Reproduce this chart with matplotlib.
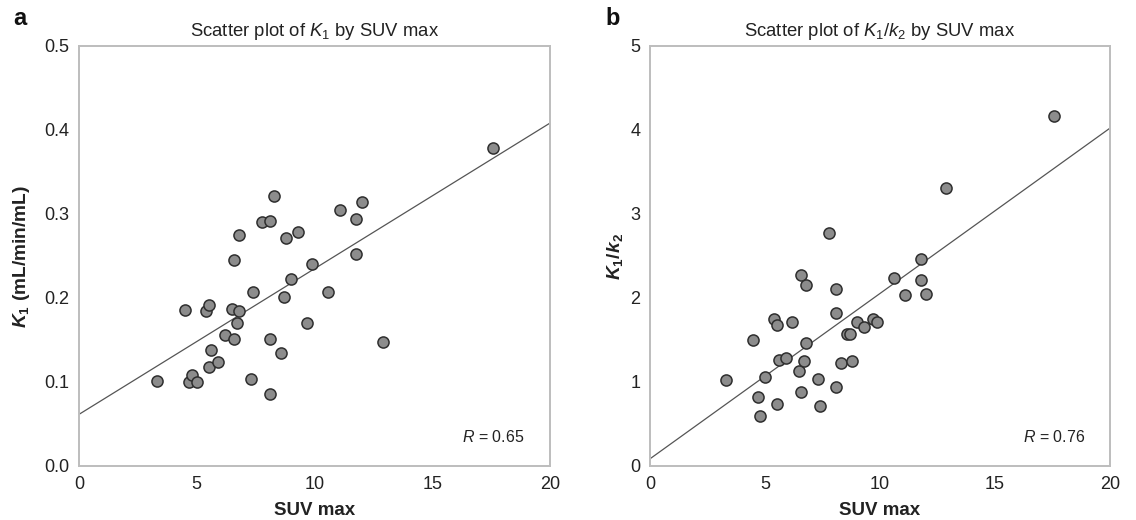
import numpy as np
import matplotlib
matplotlib.use("Agg")
import matplotlib.pyplot as plt

plt.rcParams["font.family"] = ["Liberation Sans", "DejaVu Sans"]
plt.rcParams["mathtext.fontset"] = "custom"
plt.rcParams["mathtext.rm"] = "Liberation Sans"
plt.rcParams["mathtext.it"] = "Liberation Sans:italic"
plt.rcParams["mathtext.bf"] = "Liberation Sans:bold"
plt.rcParams["mathtext.bfit"] = "Liberation Sans:bold:italic"

# SUV max per lesion (shared by both panels)
suv_max = [3.30, 4.49, 4.68, 4.80, 5.00, 5.38, 5.50, 5.51, 5.60, 5.90,
           6.19, 6.48, 6.58, 6.58, 6.70, 6.79, 6.79, 7.29, 7.39, 7.78,
           8.10, 8.10, 8.10, 8.29, 8.58, 8.70, 8.79, 8.99, 9.29, 9.68,
           9.89, 10.59, 11.10, 11.78, 11.78, 12.00, 12.89, 17.58]

# K1 (mL/min/mL)
k1 = [0.101, 0.186, 0.100, 0.108, 0.100, 0.184, 0.192, 0.118, 0.138, 0.124,
      0.156, 0.187, 0.151, 0.245, 0.170, 0.184, 0.275, 0.104, 0.207, 0.291,
      0.292, 0.151, 0.086, 0.321, 0.135, 0.201, 0.271, 0.223, 0.279, 0.170,
      0.240, 0.207, 0.305, 0.294, 0.252, 0.314, 0.148, 0.379]

# K1/k2 ratio, same lesion order as suv_max
k1_k2 = [1.02, 1.50, 0.82, 0.60, 1.06, 1.75, 1.68, 0.74, 1.26, 1.28,
         1.72, 1.13, 2.27, 0.88, 1.25, 2.15, 1.47, 1.04, 0.71, 2.77,
         2.11, 1.82, 0.94, 1.23, 1.57, 1.57, 1.25, 1.71, 1.65, 1.75,
         1.71, 2.24, 2.04, 2.46, 2.21, 2.05, 3.31, 4.17]

x_ticks = [0, 5, 10, 15, 20]
k1_ticks = [0.0, 0.1, 0.2, 0.3, 0.4, 0.5]
ratio_ticks = [0, 1, 2, 3, 4, 5]

fig = plt.figure(figsize=(11.36, 5.2), dpi=100)
ax_a = fig.add_axes([79 / 1136, 54 / 520, 471 / 1136, 420 / 520])
ax_b = fig.add_axes([650 / 1136, 54 / 520, 460 / 1136, 420 / 520])

TEXT = "#222222"


def draw_panel(ax, x, y, yticks, yfmt, title, ylabel, ylabel_x,
               r_text, letter, letter_x):
    x = np.asarray(x)
    y = np.asarray(y)
    slope, intercept = np.polyfit(x, y, 1)
    xx = np.array([0, 20])
    ax.plot(xx, intercept + slope * xx, color="#555555", lw=0.9, zorder=2)
    ax.scatter(x, y, s=64, facecolor="#8c8c8c", edgecolor="#2e2e2e",
               linewidth=1.1, zorder=3)
    ax.set_xlim(0, 20)
    ax.set_ylim(yticks[0], yticks[-1])
    ax.set_xticks(x_ticks)
    ax.set_yticks(yticks)
    ax.set_yticklabels([yfmt.format(v) for v in yticks])
    ax.tick_params(length=0, labelsize=13, colors=TEXT)
    ax.tick_params(axis="y", pad=7)
    ax.tick_params(axis="x", pad=7)
    for sp in ax.spines.values():
        sp.set_color("#bdbdbd")
        sp.set_linewidth(1.4)
    ax.set_title(title, fontsize=13.3, pad=7, color=TEXT)
    ax.set_xlabel("SUV max", fontsize=13.5, fontweight="bold", color=TEXT)
    ax.xaxis.set_label_coords(0.5, -0.086)
    ax.set_ylabel(ylabel, fontsize=13.8, fontweight="bold", color=TEXT)
    ax.yaxis.set_label_coords(ylabel_x, 0.5)
    ax.text(0.945, 0.069, r_text, transform=ax.transAxes, ha="right",
            va="center", fontsize=11.5, color=TEXT)
    ax.text(letter_x, 1.05, letter, transform=ax.transAxes, ha="left",
            va="baseline", fontsize=17, fontweight="bold", color="#111111")


draw_panel(ax_a, suv_max, k1, k1_ticks, "{:.1f}",
           r"Scatter plot of $K_1$ by SUV max",
           r"$\mathbfit{K}_\mathbf{1}$ (mL/min/mL)", -0.10,
           r"$R$ = 0.65", "a", -0.14)
draw_panel(ax_b, suv_max, k1_k2, ratio_ticks, "{:d}",
           r"Scatter plot of $K_1/k_2$ by SUV max",
           r"$\mathbfit{K}_\mathbf{1}\mathbf{/}\mathbfit{k}_\mathbf{2}$", -0.054,
           r"$R$ = 0.76", "b", -0.096)

fig.savefig("out.png", dpi=100)
